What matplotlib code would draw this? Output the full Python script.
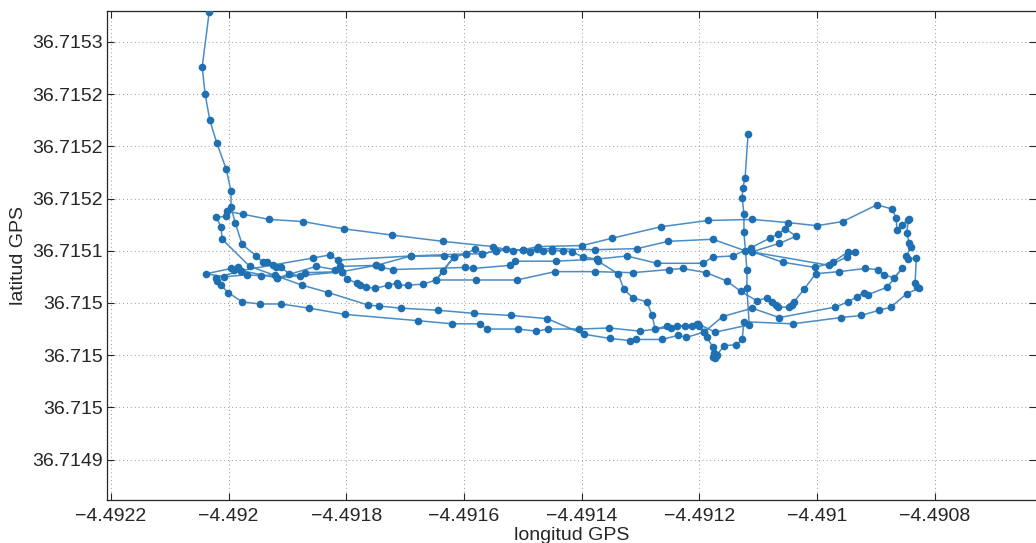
import matplotlib
matplotlib.use('Agg')
import matplotlib.pyplot as plt

# recorrido GPS, por tramos
lon_1 = [-4.492033, -4.492045, -4.492040, -4.492032, -4.492020, -4.492004, -4.491996, -4.491996, -4.491989, -4.491977,
         -4.491953, -4.491942, -4.491935, -4.491925, -4.491919, -4.491911, -4.491897, -4.491879, -4.491870, -4.491807,
         -4.491799, -4.491782, -4.491777, -4.491766, -4.491751, -4.491729, -4.491714, -4.491712, -4.491695, -4.491670,
         -4.491647, -4.491636, -4.491617, -4.491596, -4.491581, -4.491569, -4.491545, -4.491528, -4.491488, -4.491476,
         -4.491466, -4.491450, -4.491432, -4.491416, -4.491398, -4.491374, -4.491372, -4.491338, -4.491328, -4.491313,
         -4.491289, -4.491280, -4.491275, -4.491255, -4.491248, -4.491238, -4.491224, -4.491212, -4.491204, -4.491200,
         -4.491192, -4.491187, -4.491177, -4.491175, -4.491171, -4.491177, -4.491173, -4.491170, -4.491158, -4.491137,
         -4.491127, -4.491124]
lat_1 = [36.715329, 36.715276, 36.715250, 36.715225, 36.715203, 36.715178, 36.715157, 36.715142, 36.715127, 36.715106,
         36.715095, 36.715089, 36.715089, 36.715086, 36.715084, 36.715084, 36.715078, 36.715076, 36.715079, 36.715080,
         36.715073, 36.715069, 36.715067, 36.715065, 36.715064, 36.715067, 36.715069, 36.715067, 36.715067, 36.715068,
         36.715072, 36.715081, 36.715094, 36.715097, 36.715102, 36.715097, 36.715100, 36.715102, 36.715099, 36.715102,
         36.715100, 36.715100, 36.715100, 36.715099, 36.715094, 36.715092, 36.715090, 36.715078, 36.715063, 36.715055,
         36.715051, 36.715038, 36.715025, 36.715028, 36.715026, 36.715028, 36.715028, 36.715028, 36.715030, 36.715028,
         36.715022, 36.715017, 36.715008, 36.715002, 36.714999, 36.714998, 36.714997, 36.715000, 36.715009, 36.715010,
         36.715015, 36.715032]

lon_2 = [-4.491041, -4.490959, -4.490925, -4.490894, -4.490874, -4.490847, -4.490826, -4.490830, -4.490833, -4.490831,
         -4.490845, -4.490848, -4.490840, -4.490843, -4.490847, -4.490845, -4.490843, -4.490855, -4.490864, -4.490865,
         -4.490872, -4.490898, -4.490956, -4.491000, -4.491049, -4.491110, -4.491185, -4.491265, -4.491348, -4.491399,
         -4.491474, -4.491500, -4.491517, -4.491551, -4.491636, -4.491722, -4.491804, -4.491874, -4.491931, -4.491976,
         -4.492003, -4.492004, -4.492021, -4.492013, -4.492011]
lat_2 = [36.715030, 36.715036, 36.715038, 36.715043, 36.715046, 36.715059, 36.715064, 36.715065, 36.715069, 36.715093,
         36.715092, 36.715095, 36.715104, 36.715107, 36.715117, 36.715129, 36.715130, 36.715125, 36.715120, 36.715131,
         36.715140, 36.715144, 36.715128, 36.715124, 36.715127, 36.715130, 36.715129, 36.715123, 36.715112, 36.715105,
         36.715104, 36.715101, 36.715100, 36.715104, 36.715109, 36.715115, 36.715121, 36.715128, 36.715130, 36.715135,
         36.715138, 36.715133, 36.715132, 36.715123, 36.715111]

lon_3 = [-4.491964, -4.491875, -4.491831, -4.491763, -4.491744, -4.491707, -4.491644, -4.491583, -4.491520, -4.491459,
         -4.491396, -4.491352, -4.491318, -4.491307, -4.491263, -4.491236, -4.491222, -4.491192, -4.491160, -4.491110,
         -4.491064, -4.490969, -4.490947, -4.490932, -4.490920, -4.490913, -4.490881, -4.490855, -4.490869, -4.490886,
         -4.490896, -4.490918, -4.490962, -4.491002, -4.491022, -4.491039, -4.491042, -4.491047, -4.491066, -4.491069,
         -4.491076, -4.491085, -4.491102, -4.491129, -4.491153, -4.491188, -4.491228, -4.491251, -4.491313, -4.491377,
         -4.491445, -4.491510, -4.491579, -4.491647]
lat_3 = [36.715085, 36.715067, 36.715060, 36.715048, 36.715047, 36.715045, 36.715043, 36.715040, 36.715038, 36.715035,
         36.715020, 36.715016, 36.715014, 36.715015, 36.715015, 36.715019, 36.715017, 36.715022, 36.715037, 36.715045,
         36.715036, 36.715046, 36.715051, 36.715056, 36.715060, 36.715058, 36.715065, 36.715083, 36.715074, 36.715077,
         36.715082, 36.715083, 36.715080, 36.715078, 36.715063, 36.715051, 36.715048, 36.715046, 36.715046, 36.715048,
         36.715051, 36.715055, 36.715052, 36.715061, 36.715071, 36.715079, 36.715083, 36.715082, 36.715079, 36.715080,
         36.715080, 36.715072, 36.715072, 36.715072]

lon_4 = [-4.491617, -4.491634, -4.491690, -4.491814, -4.491828, -4.491857, -4.491979, -4.491984, -4.491991, -4.491996,
         -4.492038, -4.492008, -4.491969, -4.491945, -4.491921, -4.491918, -4.491851, -4.491819, -4.491811, -4.491749,
         -4.491741, -4.491721, -4.491598, -4.491585, -4.491522, -4.491513, -4.491443, -4.491374, -4.491323, -4.491272,
         -4.491194, -4.491177, -4.491143, -4.491112, -4.491080, -4.491066, -4.491054, -4.491035, -4.491064, -4.491110,
         -4.491058, -4.491003, -4.490973, -4.490947, -4.490935, -4.490949, -4.490979]
lat_4 = [36.715094, 36.715095, 36.715095, 36.715091, 36.715096, 36.715093, 36.715081, 36.715084, 36.715082, 36.715083,
         36.715078, 36.715075, 36.715077, 36.715076, 36.715077, 36.715074, 36.715085, 36.715082, 36.715085, 36.715086,
         36.715084, 36.715082, 36.715084, 36.715083, 36.715086, 36.715090, 36.715090, 36.715092, 36.715095, 36.715088,
         36.715088, 36.715094, 36.715095, 36.715103, 36.715112, 36.715116, 36.715121, 36.715114, 36.715107, 36.715099,
         36.715089, 36.715084, 36.715089, 36.715099, 36.715099, 36.715094, 36.715086]

lon_5 = [-4.491122, -4.491177, -4.491253, -4.491306, -4.491377, -4.491450, -4.491500, -4.491545, -4.491569, -4.491596,
         -4.491690, -4.491749, -4.491807, -4.491918, -4.491979, -4.492021, -4.492020]
lat_5 = [36.715100, 36.715111, 36.715109, 36.715102, 36.715101, 36.715102, 36.715101, 36.715100, 36.715097, 36.715097,
         36.715095, 36.715086, 36.715080, 36.715074, 36.715081, 36.715074, 36.715071]

lon_6 = [-4.492013, -4.492001, -4.491977, -4.491947, -4.491911, -4.491863, -4.491802, -4.491678, -4.491620, -4.491573,
         -4.491561, -4.491508, -4.491477, -4.491457, -4.491404, -4.491353, -4.491301, -4.491202, -4.491173, -4.491115,
         -4.491119, -4.491119, -4.491124, -4.491124, -4.491127, -4.491126, -4.491122, -4.491117]
lat_6 = [36.715067, 36.715060, 36.715051, 36.715049, 36.715049, 36.715045, 36.715039, 36.715033, 36.715030, 36.715030,
         36.715025, 36.715025, 36.715023, 36.715025, 36.715025, 36.715026, 36.715023, 36.715030, 36.715022, 36.715029,
         36.715064, 36.715082, 36.715118, 36.715135, 36.715151, 36.715160, 36.715170, 36.715212]

xticks = [-4.4922, -4.4920, -4.4918, -4.4916, -4.4914, -4.4912, -4.4910, -4.4908]
xlabels = ['\u22124.4922', '\u22124.492', '\u22124.4918', '\u22124.4916', '\u22124.4914',
           '\u22124.4912', '\u22124.491', '\u22124.4908']
yticks = [36.71530, 36.71525, 36.71520, 36.71515, 36.71510, 36.71505, 36.71500, 36.71495, 36.71490]
ylabels = ['36.7153', '36.7152', '36.7152', '36.7152', '36.7151', '36.715', '36.715', '36.715', '36.7149']

lon = lon_1 + lon_2 + lon_3 + lon_4 + lon_5 + lon_6
lat = lat_1 + lat_2 + lat_3 + lat_4 + lat_5 + lat_6

plt.rcParams['font.family'] = ['Liberation Sans', 'DejaVu Sans']

fig = plt.figure(figsize=(10.36, 5.43), dpi=100)
ax = fig.add_axes([107 / 1036, 43 / 543, 929 / 1036, 489 / 543])

ax.plot(lon, lat, '-', color='#4a8cc6', lw=1.1, zorder=2)
ax.plot(lon, lat, 'o', color='#1f6fb3', ms=5.5, mew=0, zorder=3)

ax.set_xlim(-4.4922068, -4.4906275)
ax.set_ylim(36.7148612, 36.7153297)
ax.set_xticks(xticks)
ax.set_xticklabels(xlabels)
ax.set_yticks(yticks)
ax.set_yticklabels(ylabels)

ax.grid(True, linestyle=(0, (1, 3)), color='#9a9a9a', lw=0.7)
ax.tick_params(direction='in', length=5, width=0.8, top=True, right=True,
               labelsize=14, colors='#262626')
ax.tick_params(axis='x', pad=6)
ax.tick_params(axis='y', pad=3)
for s in ax.spines.values():
    s.set_color('#262626')
    s.set_linewidth(0.9)
ax.spines['right'].set_visible(False)

ax.set_xlabel('longitud GPS', fontsize=14, color='#262626', labelpad=1)
ax.set_ylabel('latitud GPS', fontsize=14, color='#262626', labelpad=4)

fig.savefig('out.png', dpi=100)
